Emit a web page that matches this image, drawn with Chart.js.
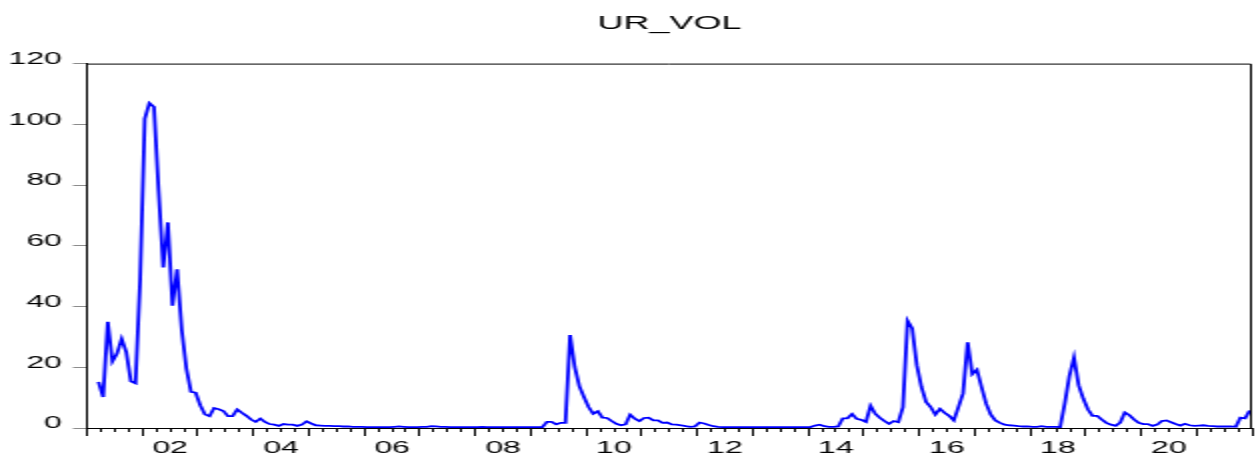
<!DOCTYPE html>
<html>
<head>
<meta charset="utf-8">
<script src="https://cdn.jsdelivr.net/npm/chart.js@4"></script>
<style>
  html, body { margin: 0; padding: 0; background: #fff; }
</style>
</head>
<body>
<!-- drawn at half width and stretched, like the wide eviews export -->
<canvas id="urChart" width="628" height="458" style="width:1256px;height:458px"></canvas>
<script>
// monthly series, first observation 2001M03
const startYear = 2001;
const startMonth = 3;
const urVol = [
  15.2, 10.2, 35.0, 21.9, 24.5, 29.4, 25.0, 15.4, 14.7, 49.0,                 // 2001
  101.8, 107.0, 105.7, 78.0, 52.9, 67.7, 40.3, 52.3, 32.3, 19.6, 11.9, 11.6,  // 2002
  7.5, 4.5, 3.9, 6.6, 6.2, 5.6, 3.9, 3.9, 6.1, 5.0, 4.0, 2.8,                 // 2003
  2.0, 3.1, 2.0, 1.3, 1.1, 0.7, 1.3, 1.1, 1.1, 0.7, 1.1, 2.2,                 // 2004
  1.5, 0.9, 0.8, 0.7, 0.7, 0.6, 0.6, 0.5, 0.5, 0.4, 0.4, 0.4,                 // 2005
  0.3, 0.3, 0.3, 0.3, 0.3, 0.3, 0.4, 0.5, 0.4, 0.3, 0.3, 0.3,                 // 2006
  0.4, 0.4, 0.6, 0.5, 0.4, 0.4, 0.3, 0.3, 0.3, 0.3, 0.3, 0.3,                 // 2007
  0.3, 0.4, 0.3, 0.3, 0.3, 0.3, 0.3, 0.3, 0.3, 0.3, 0.3, 0.3,                 // 2008
  0.3, 0.3, 0.3, 2.0, 2.0, 1.2, 1.7, 1.7, 30.6, 20.1, 13.8, 10.2,             // 2009
  6.9, 4.7, 5.5, 3.4, 3.3, 2.3, 1.4, 0.9, 1.2, 4.4, 3.1, 2.3,                 // 2010
  3.3, 3.4, 2.5, 2.5, 1.7, 1.8, 1.2, 1.1, 0.9, 0.6, 0.4, 0.5,                 // 2011
  1.8, 1.5, 1.0, 0.6, 0.4, 0.3, 0.3, 0.3, 0.3, 0.3, 0.3, 0.3,                 // 2012
  0.3, 0.3, 0.3, 0.3, 0.3, 0.3, 0.3, 0.3, 0.3, 0.3, 0.3, 0.3,                 // 2013
  0.3, 0.8, 1.1, 0.6, 0.4, 0.4, 0.5, 3.2, 3.2, 4.6, 3.0, 2.7,                 // 2014
  2.0, 7.3, 4.7, 3.4, 2.3, 1.4, 2.3, 1.9, 6.9, 35.3, 32.8, 20.7,              // 2015
  13.5, 8.6, 6.9, 4.4, 6.3, 5.0, 4.0, 2.5, 6.9, 11.4, 28.2, 17.7,             // 2016
  19.2, 13.5, 8.0, 4.4, 2.5, 1.7, 1.1, 0.9, 0.8, 0.6, 0.5, 0.5,               // 2017
  0.4, 0.4, 0.6, 0.4, 0.4, 0.4, 0.3, 8.0, 17.1, 23.2, 14.1, 9.7,              // 2018
  6.2, 4.0, 4.0, 2.8, 1.7, 1.1, 0.7, 1.8, 5.1, 4.2, 2.8, 1.7,                 // 2019
  1.3, 1.3, 0.7, 1.1, 2.3, 2.5, 1.9, 1.3, 0.8, 1.4, 0.9, 0.7,                 // 2020
  0.8, 0.9, 0.7, 0.6, 0.5, 0.5, 0.5, 0.5, 0.4, 3.4, 3.2, 5.8                  // 2021
];

const axisYears = [2001, 2022];
const labelYears = [2002, 2004, 2006, 2008, 2010, 2012, 2014, 2016, 2018, 2020];
const yTicks = [0, 20, 40, 60, 80, 100, 120];

// each month sits in the middle of its slot on the time axis
var points = urVol.map(function (v, i) {
    return { x: startYear + (startMonth - 1 + i + 0.5) / 12, y: v };
});

var yearTicks = [];
var quarterTicks = [];
for (var yr = axisYears[0]; yr <= axisYears[1]; yr++) {
    yearTicks.push({ value: yr });
    for (var q = 0; q < 4; q++) {
        if (yr + q / 4 <= axisYears[1]) quarterTicks.push({ value: yr + q / 4 });
    }
}

Chart.defaults.font.family = '"Liberation Sans", Arial, Helvetica, sans-serif';
Chart.defaults.color = '#000';

// box round the plot
var frame = {
    id: 'frame',
    afterDraw: function (chart) {
        var a = chart.chartArea, ctx = chart.ctx;
        ctx.save();
        ctx.strokeStyle = '#000';
        ctx.lineWidth = 1;
        ctx.beginPath();
        ctx.moveTo(a.left, a.top + 0.5);
        ctx.lineTo(a.right - 0.5, a.top + 0.5);
        ctx.lineTo(a.right - 0.5, a.bottom);
        ctx.stroke();
        ctx.restore();
    }
};

function noSidePadding(scale) {
    scale.paddingLeft = 0;
    scale.paddingRight = 0;
}

var ctx = document.getElementById('urChart').getContext('2d');
var chart = new Chart(ctx, {
    type: 'line',
    data: {
        datasets: [{
            label: 'UR_VOL',
            data: points,
            borderColor: '#0000ff',
            borderWidth: 1.8,
            pointRadius: 0,
            tension: 0,
            fill: false
        }]
    },
    options: {
        responsive: false,
        devicePixelRatio: 1,
        animation: false,
        layout: { padding: { left: 0, right: 2, top: 0, bottom: 0 } },
        plugins: {
            legend: { display: false },
            tooltip: { enabled: false },
            title: {
                display: true,
                text: 'UR_VOL',
                fullSize: false,
                color: '#000',
                font: { size: 18, weight: 'normal' },
                padding: { top: 13, bottom: 29 }
            }
        },
        scales: {
            // year ticks, long marks only
            x: {
                type: 'linear',
                position: 'bottom',
                weight: 0,
                min: axisYears[0],
                max: axisYears[1],
                afterBuildTicks: function (scale) { scale.ticks = yearTicks.slice(); },
                afterFit: function (scale) { noSidePadding(scale); scale.height = 0; },
                grid: { drawOnChartArea: false, drawTicks: true, tickLength: 8, tickColor: '#000', tickWidth: 1 },
                border: { display: false },
                ticks: { display: false, autoSkip: false }
            },
            // quarter ticks and the year labels
            xq: {
                type: 'linear',
                position: 'bottom',
                weight: 1,
                min: axisYears[0],
                max: axisYears[1],
                afterBuildTicks: function (scale) { scale.ticks = quarterTicks.slice(); },
                afterFit: function (scale) { noSidePadding(scale); scale.height = 30; },
                grid: { drawOnChartArea: false, drawTicks: true, tickLength: 4, tickColor: '#000', tickWidth: 1 },
                border: { display: true, color: '#000', width: 1 },
                ticks: {
                    autoSkip: false,
                    maxRotation: 0,
                    minRotation: 0,
                    padding: 7,
                    font: { size: 16 },
                    color: '#000',
                    callback: function (value) {
                        var yr = Math.floor(value);
                        if (Math.abs(value - yr - 0.5) < 1e-6 && labelYears.indexOf(yr) >= 0) {
                            return String(yr).slice(2);
                        }
                        return '';
                    }
                }
            },
            y: {
                min: yTicks[0],
                max: yTicks[yTicks.length - 1],
                afterBuildTicks: function (scale) {
                    scale.ticks = yTicks.map(function (v) { return { value: v }; });
                },
                afterFit: function (scale) { scale.width = 43.5; },
                grid: { drawOnChartArea: false, drawTicks: true, tickLength: 7, tickColor: '#8c8c8c', tickWidth: 1 },
                border: { display: true, color: '#000', width: 1 },
                ticks: { padding: 5.5, labelOffset: -4, font: { size: 16 }, color: '#000' }
            }
        }
    },
    plugins: [frame]
});
</script>
</body>
</html>
